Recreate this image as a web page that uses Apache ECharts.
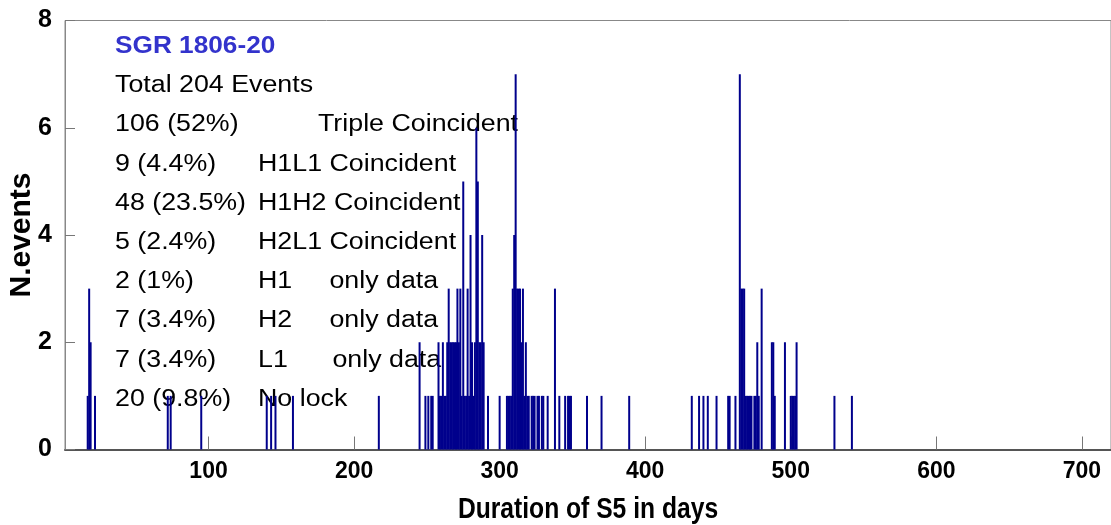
<!DOCTYPE html>
<html>
<head>
<meta charset="utf-8">
<script src="https://cdn.jsdelivr.net/npm/echarts@6/dist/echarts.min.js"></script>
<style>html,body{margin:0;padding:0;background:#fff}#c{width:1111px;height:525px}</style>
</head>
<body>
<div id="c"></div>
<script>
// Histogram of events per day (bin = 1 day)
const days = [17,18,19,22, 72,74,95, 140,143,146,158, 217,
  245,249,251,253,254,258,259,260,261,262,263,264,265,266,267,268,269,270,271,272,273,274,275,276,277,278,279,280,281,282,283,284,285,286,287,288,289,292,
  300,305,306,307,308,309,310,311,312,313,314,315,316,317,318,319,320,322,323,324,326,327,329,330,333,338,341,345,347,348,349,
  360,370,389,
  432,437,440,443,449,457,458,462,465,466,467,468,469,470,471,472,473,475,476,477,478,480,487,488,489,496,500,501,502,503,504,530,542];
const counts = [1,3,2,1, 1,1,1, 1,1,1,1, 1,
  2,1,1,1,1,2,1,1,2,1,1,2,3,2,2,2,2,2,3,2,3,1,5,1,1,3,1,4,2,1,2,6,5,2,2,4,2,1,
  1,1,1,1,1,3,4,7,3,3,3,2,3,1,2,1,1,1,1,1,1,1,1,1,1,3,1,1,1,1,1,
  1,1,1,
  1,1,1,1,1,1,1,1,7,3,3,3,1,1,1,1,1,1,1,2,1,3,2,2,1,2,1,1,1,1,2,1,1];
const xTicks = [100,200,300,400,500,600,700];
const yTicks = [0,2,4,6,8];
const title = 'SGR 1806-20';
const totalLine = 'Total 204 Events';
const countLabels = ['106 (52%)','9 (4.4%)','48 (23.5%)','5 (2.4%)','2 (1%)','7 (3.4%)','7 (3.4%)','20 (9.8%)'];
const typeLabels = ['Triple Coincident','H1L1 Coincident','H1H2 Coincident','H2L1 Coincident','H1     only data','H2     only data','L1      only data','No lock'];
const xName = 'Duration of S5 in days';
const yName = 'N.events';

const SANS = '"Liberation Sans",Arial,sans-serif';

const chart = echarts.init(document.getElementById('c'), null, {renderer:'canvas'});

const rowY0 = 46.5, rowStep = 39.2;
const txt = (s, x, y, font, fill) => ({
  type:'text', x:x, y:y, scaleX:1.14, scaleY:1, silent:true,
  style:{text:s, font:font, fill:fill||'#000', textAlign:'left', textVerticalAlign:'middle'}
});
const graphics = [];
graphics.push(txt(title, 115, rowY0, 'bold 23px ' + SANS, '#3333cc'));
graphics.push(txt(totalLine, 115, rowY0 + rowStep, '23.5px ' + SANS));
const labelX = [318,258,258,258,258,258,258,258];
countLabels.forEach((s,i)=>{
  graphics.push(txt(s, 115, rowY0 + rowStep*(i+2), '23.5px ' + SANS));
});
typeLabels.forEach((s,i)=>{
  graphics.push(txt(s, labelX[i], rowY0 + rowStep*(i+2), '23.5px ' + SANS));
});
graphics.push({type:'text', x:588, y:510, scaleX:0.85, scaleY:1, silent:true,
  style:{text:xName, font:'bold 29px ' + SANS, fill:'#000', textAlign:'center', textVerticalAlign:'middle'}});
graphics.push({type:'text', x:22, y:235, rotation:Math.PI/2, silent:true,
  style:{text:yName, font:'bold 30px ' + SANS, fill:'#000', textAlign:'center', textVerticalAlign:'middle'}});

chart.setOption({
  animation:false,
  backgroundColor:'#fff',
  grid:{left:65, top:20.5, width:1051.5, height:429, show:true, borderColor:'#888', borderWidth:1, backgroundColor:'transparent'},
  xAxis:{type:'value', min:1.4, max:720,
    axisLine:{show:true, onZero:false, lineStyle:{color:'#555', width:2}},
    axisTick:{show:true, inside:true, length:13, customValues:xTicks, lineStyle:{color:'#777', width:1}},
    axisLabel:{show:true, customValues:xTicks, color:'#000', fontFamily:SANS, fontWeight:'bold', fontSize:23, margin:11},
    splitLine:{show:false}},
  yAxis:{type:'value', min:0, max:8, interval:2,
    axisLine:{show:true, lineStyle:{color:'#888', width:1}},
    axisTick:{show:true, inside:true, length:10, lineStyle:{color:'#777', width:1}},
    axisLabel:{color:'#000', fontFamily:SANS, fontWeight:'bold', fontSize:25, margin:13},
    splitLine:{show:false}},
  series:[{type:'bar', barWidth:2, silent:true,
    itemStyle:{color:'#00008c'},
    data: days.map((d,i)=>[d, counts[i]])}],
  graphic: graphics
});
</script>
</body>
</html>
